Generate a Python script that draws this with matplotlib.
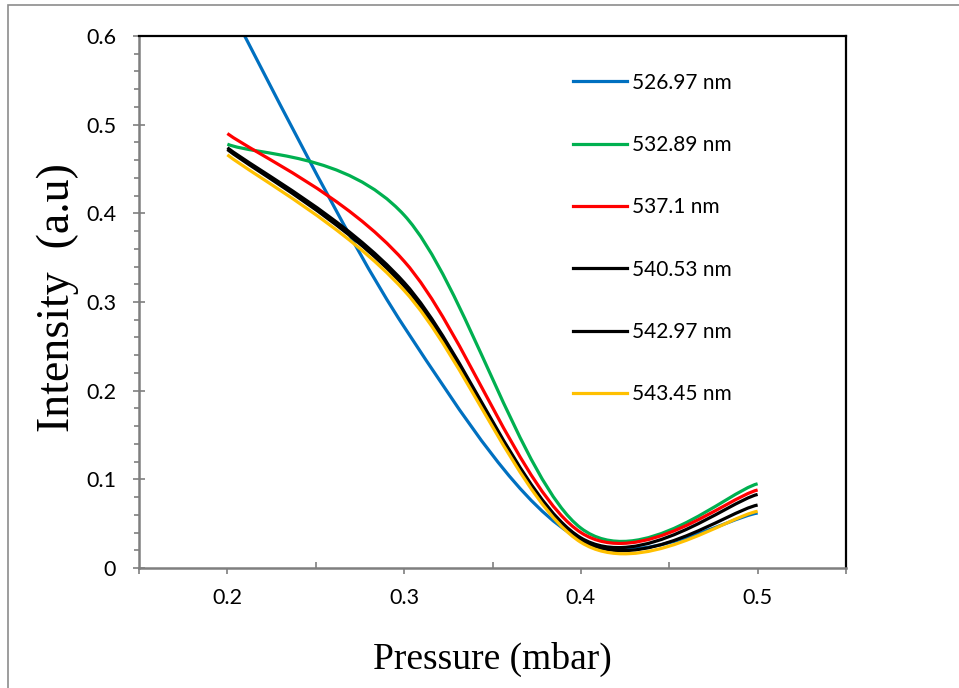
import matplotlib
matplotlib.use("Agg")
import matplotlib.pyplot as plt
from matplotlib.path import Path
from matplotlib.patches import PathPatch, Rectangle
from matplotlib.lines import Line2D
from matplotlib.ticker import FixedLocator, FuncFormatter, MultipleLocator

# pressão (mbar) e intensidades
pressao = [0.2, 0.3, 0.4, 0.5]

i_526_97 = [0.637, 0.272, 0.032, 0.062]
i_532_89 = [0.478, 0.398, 0.045, 0.095]
i_537_1 = [0.490, 0.346, 0.040, 0.088]
i_540_53 = [0.474, 0.322, 0.034, 0.083]
i_542_97 = [0.472, 0.318, 0.032, 0.071]
i_543_45 = [0.466, 0.313, 0.029, 0.064]

rotulos = ["526.97 nm", "532.89 nm", "537.1 nm", "540.53 nm", "542.97 nm", "543.45 nm"]
series = [i_526_97, i_532_89, i_537_1, i_540_53, i_542_97, i_543_45]
cores = ["#0070C0", "#00B050", "#FF0000", "#000000", "#000000", "#FFC000"]


def curva_suave(xs, ys):
    """Curva de Bezier passando pelos pontos (tipo linha suavizada do Excel)."""
    pts = list(zip(xs, ys))
    n = len(pts)
    verts = [pts[0]]
    codes = [Path.MOVETO]
    for i in range(n - 1):
        p0 = pts[max(i - 1, 0)]
        p1 = pts[i]
        p2 = pts[i + 1]
        p3 = pts[min(i + 2, n - 1)]
        c1 = (p1[0] + (p2[0] - p0[0]) / 6, p1[1] + (p2[1] - p0[1]) / 6)
        c2 = (p2[0] - (p3[0] - p1[0]) / 6, p2[1] - (p3[1] - p1[1]) / 6)
        verts += [c1, c2, p2]
        codes += [Path.CURVE4] * 3
    return Path(verts, codes)


fig = plt.figure(figsize=(9.59, 6.88), dpi=100)
ax = fig.add_axes([139 / 959, 1 - 568 / 688, 707 / 959, 532 / 688])

# moldura cinza da figura
fig.add_artist(Rectangle((8 / 959, -0.2), 1.5, 1.2 - 5 / 688,
                         transform=fig.transFigure, fill=False,
                         edgecolor="#8c8c8c", linewidth=1.2))

handles = []
for ys, cor, rot in zip(series, cores, rotulos):
    patch = PathPatch(curva_suave(pressao, ys), facecolor="none", edgecolor=cor,
                      linewidth=2.3, capstyle="butt", joinstyle="round")
    ax.add_patch(patch)
    handles.append(Line2D([], [], color=cor, linewidth=2.3, label=rot))

ax.set_xlim(0.15, 0.55)
ax.set_ylim(0, 0.6)

# eixos
for lado in ["top", "right"]:
    ax.spines[lado].set_color("black")
    ax.spines[lado].set_linewidth(1.6)
for lado in ["left", "bottom"]:
    ax.spines[lado].set_color("#7f7f7f")
    ax.spines[lado].set_linewidth(1.8)

ax.xaxis.set_major_locator(FixedLocator([0.15, 0.2, 0.3, 0.4, 0.5, 0.55]))
ax.xaxis.set_minor_locator(FixedLocator([0.25, 0.35, 0.45]))
ax.xaxis.set_major_formatter(FuncFormatter(
    lambda v, p: "" if abs(v - 0.15) < 1e-6 or abs(v - 0.55) < 1e-6 else f"{v:.1f}"))
ax.yaxis.set_major_locator(MultipleLocator(0.1))
ax.yaxis.set_minor_locator(MultipleLocator(0.02))
ax.yaxis.set_major_formatter(FuncFormatter(lambda v, p: "0" if abs(v) < 1e-9 else f"{v:.1f}"))

ax.tick_params(axis="x", which="major", direction="out", length=4.5, width=1.2,
               color="#7f7f7f", pad=10, labelsize=15.5)
ax.tick_params(axis="x", which="minor", direction="in", length=4.5, width=1.2, color="#7f7f7f")
ax.tick_params(axis="y", which="major", direction="inout", length=9, width=1.2,
               color="#7f7f7f", pad=12, labelsize=15.5)
ax.tick_params(axis="y", which="minor", direction="out", length=3.8, width=1.2, color="#7f7f7f")
for lab in ax.get_xticklabels() + ax.get_yticklabels():
    lab.set_fontfamily("Lato")

ax.set_xlabel("Pressure (mbar)", fontfamily="Liberation Serif", fontsize=27, labelpad=24)
ax.set_ylabel("Intensity  (a.u)", fontfamily="Liberation Serif", fontsize=33)
ax.yaxis.set_label_coords(-0.085, 0.509)

leg = ax.legend(handles=handles, loc="upper left", bbox_to_anchor=(0.614, 0.931),
                frameon=False, prop={"family": "Lato", "size": 15},
                handlelength=2.6, handletextpad=0.25, labelspacing=2.03,
                borderpad=0, borderaxespad=0)

fig.savefig("out.png", dpi=100, facecolor="white")
